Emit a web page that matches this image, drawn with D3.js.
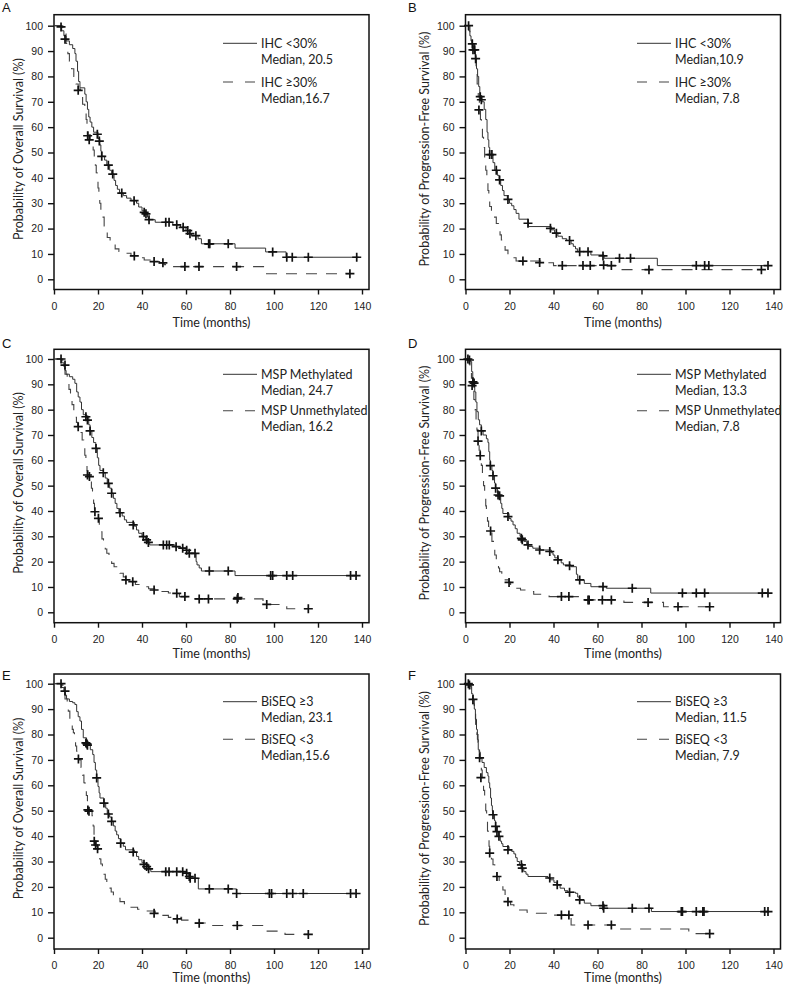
<!DOCTYPE html>
<html><head><meta charset="utf-8">
<script src="https://cdn.jsdelivr.net/npm/d3@7"></script>
<style>
html,body{margin:0;padding:0;background:#fff;}
svg{display:block;}
</style></head>
<body>
<svg id="chart" width="786" height="989"></svg>
<script>
// ---------------- DATA ----------------
const panelLetters = ["A","B","C","D","E","F"];
const yTitleOS = "Probability of Overall Survival (%)";
const yTitlePFS = "Probability of Progression-Free Survival (%)";
const xTitle = "Time (months)";
const xTicks = [0,20,40,60,80,100,120,140];
const yTicks = [0,10,20,30,40,50,60,70,80,90,100];

const legendA = [["IHC <30%","Median, 20.5"],["IHC \u226530%","Median,16.7"]];
const legendB = [["IHC <30%","Median,10.9"],["IHC \u226530%","Median, 7.8"]];
const legendC = [["MSP Methylated","Median, 24.7"],["MSP Unmethylated","Median, 16.2"]];
const legendD = [["MSP Methylated","Median, 13.3"],["MSP Unmethylated","Median, 7.8"]];
const legendE = [["BiSEQ \u22653","Median, 23.1"],["BiSEQ <3","Median,15.6"]];
const legendF = [["BiSEQ \u22653","Median, 11.5"],["BiSEQ <3","Median, 7.9"]];

// Panel A (OS, IHC)
const survA_solid = [[0,100],[3.5,98],[4.5,96],[5.5,94],[7,92.5],[8.5,91],[9.5,89],[10,86],[10.7,82],[11.2,78],[11.8,75.5],[14,73],[14.6,70],[15.2,67],[15.8,64],[16.4,62],[17.2,60],[18,58],[20,55.5],[20.8,53],[21.3,50.5],[21.8,48.5],[23,47],[24,45],[25.3,43],[26.2,41.5],[27.3,39],[28,37],[28.8,35.5],[29.8,34],[31.5,33],[33,32],[35,31],[37.5,30],[38.5,28.5],[40,27],[41.5,25.8],[42.5,24.5],[43,23.5],[46,22.5],[54,21.5],[57.5,20.5],[60,19.2],[61.5,18],[62.5,17.2],[65.5,16],[67,14],[82.3,12.3],[96.2,10.8],[105.5,8.7],[138.5,8.7]];
const censA_solid = [[3.2,99.5],[5,94.7],[19.7,57.2],[20.6,54.5],[21.7,48.5],[24.7,45],[26.7,41.5],[30.8,34],[36.4,31],[41,26.4],[41.8,25.8],[43.2,23.5],[50.8,22.5],[52.3,22.5],[55.8,21.5],[58.7,20.5],[60.8,19.2],[61.8,18],[64.5,17.2],[70.3,14],[70.8,14],[79.2,14],[99.4,10.8],[105.8,8.7],[108.3,8.7],[115.6,8.7],[137.6,8.7]];
const survA_dashed = [[0,100],[4,97],[5.5,93],[6.3,89],[7,86],[8,83],[9,80],[10,77],[11,75],[12,72],[13,69],[14,66],[14.6,63],[15,60],[15.5,57],[16.5,55],[17,53],[17.8,51],[18.3,48],[18.8,45],[19.2,42],[19.6,39],[20,36],[20.4,33],[20.8,30],[21.3,27],[22,24.5],[22.8,21],[23.4,18.5],[24.2,16.5],[25.5,15],[26.5,13.5],[27.8,12],[29.5,11],[31.5,10.3],[35,9.3],[38,8.5],[41,7.6],[44,7],[48,6.4],[50,5.8],[54,5],[95.5,2.2],[134.5,2.2]];
const censA_dashed = [[11,74.5],[15.3,56.6],[16,55],[36.5,9.2],[45.5,7],[49.5,6.5],[59.5,5],[65.9,5],[83,5],[134.5,2.2]];

// Panel B (PFS, IHC)
const survB_solid = [[0,100],[1.5,98],[2,96],[2.5,94],[3,92.8],[3.8,90.5],[4.5,87],[5,83],[5.5,80],[6,76],[6.5,72],[7.5,70],[8.5,67],[9.2,63],[9.8,58],[10.2,55],[10.6,52],[11,49.2],[12.5,46],[13.3,43],[14.5,41],[15.3,39.2],[16,37],[16.8,35],[17.5,33],[19,31.5],[20,30],[21,29],[22,27.5],[23,26],[24.3,23.7],[28.6,20.8],[39,19.5],[40.5,18.2],[42,17],[44,16],[46,15.3],[48,14],[49,13],[50,12],[51,10.9],[57,9.6],[63,8.3],[87.2,5.4],[137.5,5.4]];
const censB_solid = [[1.4,100],[3.1,92.8],[3.4,90.5],[4.2,90.5],[4.6,87],[6.7,72],[7.2,70.8],[11,49.2],[12,49.2],[14,43],[15.5,39.2],[19.3,31.5],[28.4,22.1],[38.6,20.1],[41.3,18.2],[47.3,15.3],[51.9,10.9],[55.7,10.9],[62.5,9.2],[70,8.3],[75,8.3],[104.9,5.4],[108.7,5.4],[110.6,5.4],[137.5,5.4]];
const survB_dashed = [[0,100],[2,97],[3,93],[4,88],[4.8,82],[5.3,77],[5.8,72],[6.3,67],[6.8,63],[7.2,60],[7.7,56],[8.2,52],[8.7,47],[9.2,43],[9.7,39.2],[10.2,35],[10.6,31],[11,28.7],[11.8,26],[12.5,24.5],[14,22],[15,19.5],[15.7,17.5],[16.3,15.5],[17,13.6],[18,11.5],[19.3,9.6],[21.6,8.5],[23,7.2],[35,6.5],[40,5.4],[69,3.8],[134.5,3.8]];
const censB_dashed = [[6.1,66.8],[26.1,7.2],[33.7,6.6],[44,5.4],[53.4,5.4],[56.7,5.4],[62.8,5.6],[66.3,5.4],[83.4,3.8],[134.5,3.8]];

// Panel C (OS, MSP)
const survC_solid = [[0,100],[3.5,98.5],[4.5,97],[5,95.5],[5.5,94],[7,93],[8.5,92],[9.5,90.4],[10.3,87],[11,85],[11.8,83],[12.5,80],[13.3,78],[14.8,77],[15.8,74],[16.4,71.6],[17.2,69],[18,67],[19,64.7],[19.7,61],[20.3,58],[20.9,56],[22.5,55],[23.3,53],[24.2,51],[25.3,49],[26.2,47],[27,45],[27.8,43],[28.6,41],[29.5,39.3],[31,38],[32,36.5],[33,35.5],[36.5,34],[37.5,32.5],[38.5,31.2],[40,30],[41.5,29],[42.5,27.8],[43.5,26.6],[55,25.9],[57.5,25.3],[60,24.5],[61,23.3],[64.6,20],[65,18.7],[66,17.5],[67,16.3],[82.3,14.5],[138,14.5]];
const censC_solid = [[3.2,100],[5,97.6],[14.5,77.2],[15.2,75.9],[16.4,71.6],[19.1,64.7],[22.4,55.1],[24.7,50.9],[26.2,47],[30,39.3],[36,34.5],[40.6,29.9],[42.1,28.6],[42.9,27.6],[49.7,26.6],[51.2,26.6],[52.4,26.6],[55.5,25.9],[58.5,25.3],[60.3,24.5],[61.5,23.3],[64.1,23.3],[70.6,16.3],[79.2,16.3],[98.5,14.5],[99.4,14.5],[105.8,14.5],[108.5,14.5],[134.8,14.5],[137.3,14.5]];
const survC_dashed = [[0,100],[4,97],[5,94],[6,91],[6.8,88],[7.5,85],[8.2,82],[9,80],[9.6,77],[10.2,75],[10.8,73.3],[12,71],[12.8,68],[13.5,65],[14,62],[14.5,59],[15,56],[15.4,54.2],[16.5,52],[17,49],[17.5,46],[18,43],[18.4,39.7],[20.2,37],[20.6,34],[21,31.8],[21.8,29],[22.5,27],[23.3,25],[24,23.3],[25,21],[26.2,19.3],[27.3,18],[28.5,16.7],[30,15.4],[31.5,14],[32.5,13],[35.5,12.1],[37,11],[40,10.1],[43,9.3],[48,8.2],[52,7.6],[57,6.2],[61,5.3],[95,3.1],[105.8,1.4],[115.6,1.4]];
const censC_dashed = [[11,73.3],[15.2,54.2],[16.1,53.6],[18.6,39.7],[20.2,37.1],[32.7,12.8],[35.8,12.1],[45.5,8.8],[55.8,7.5],[59.5,6.2],[66,5.3],[70.2,5.3],[83.3,5.3],[83.6,5.8],[96.7,3.1],[115.6,1.4]];

// Panel D (PFS, MSP)
const survD_solid = [[0,100],[1.5,99.5],[2.3,99],[2.8,95],[3.3,91],[4.2,87],[4.7,83],[5.2,79.2],[5.8,76],[6.4,74],[7.2,71.6],[8,70],[9.5,68.5],[10.2,67],[10.6,63.4],[11,60],[11.3,57.9],[12,56],[12.5,53.9],[13.2,51],[13.7,49],[14.5,47],[15.5,46],[16,43],[16.5,41],[17,39],[19.8,37],[20.7,36],[21.6,34.5],[22.6,33],[23.5,31.2],[24.8,30],[25.4,29.2],[26.5,28],[27.8,27],[28.6,26],[30.6,25.3],[34,24.6],[39,23.5],[39.8,22.6],[40.6,21.5],[42.2,20.7],[43.5,19.5],[44.5,18.7],[48,18],[50.4,15],[51,12.8],[54,11.4],[57,10.1],[64,9.5],[84.2,7.6],[137.5,7.6]];
const censD_solid = [[1.1,100],[1.8,99.6],[3.4,91],[3.9,90.5],[7.2,71.6],[11.3,57.9],[12.5,53.9],[13.7,49],[14.8,46.3],[15.5,46],[19.3,37.8],[25.4,29.2],[25.8,28.6],[28.4,26.6],[33.7,24.6],[38.3,24],[42,20.7],[47.3,18.4],[51.9,12.8],[62.5,10.1],[75.8,9.5],[98.6,7.6],[104.9,7.6],[108.7,7.6],[134.9,7.6],[137.5,7.6]];
const survD_dashed = [[0,100],[2,96],[2.7,92.4],[3.3,88],[3.8,84],[4.3,80],[4.8,76],[5.2,72],[5.7,67.6],[6.2,64],[6.7,61.8],[7.2,58],[7.7,54.2],[8.2,50],[8.7,46],[9.2,42],[9.5,39.7],[10,36],[10.5,33],[11.4,32.1],[12,28],[12.7,25],[13.3,22.6],[14,20],[15,17.5],[15.5,16],[16.5,14],[17.5,12.8],[19.8,11.8],[20.5,10.5],[22,9.5],[25,8.8],[27.6,8.2],[31,7.1],[38,6.2],[52,4.9],[72,3.9],[90,2.2],[111,2.2]];
const censD_dashed = [[3,89.5],[5.7,67.6],[6.7,61.8],[11.4,32.1],[19.8,11.8],[43.6,6.2],[47,6.2],[55.7,4.9],[56.2,4.9],[62.2,4.9],[66.3,4.9],[83,3.9],[96.6,2.2],[111,2.2]];

// Panel E (OS, BiSEQ)
const survE_solid = [[0,100],[3.5,98.5],[4.5,97],[5,95.5],[5.7,94],[7,93],[8.5,92.5],[9.5,91.8],[10.3,89],[11,87],[11.8,85.3],[12.5,82],[13.3,78.7],[14.8,77],[15.8,76],[16.5,74],[17.6,72.1],[18.2,69],[18.8,66],[19.4,62.9],[20,59.5],[20.5,57],[20.9,55],[22.7,53],[23.5,51],[24.2,49],[25.3,47.5],[26.2,45.8],[27,44],[27.8,42],[28.5,40.5],[29.3,39],[30.3,37.2],[31.5,36],[32.5,34.6],[36.5,33.7],[37.5,32],[38.5,30.7],[40,29.5],[41.5,28.9],[42.5,28],[43.3,27.1],[44,26],[60,25.4],[61,24.1],[61.8,23.4],[65.6,19.2],[83,17.4],[138,17.4]];
const censE_solid = [[3.2,100],[5,97.1],[14.5,76.7],[15,76.3],[15.2,75.8],[19.4,62.9],[22.7,53],[24.7,48.7],[26.2,45.8],[30.3,37.2],[36,33.7],[40.9,28.9],[42.1,28],[43,27.1],[50.8,26],[52.3,26],[55.8,26],[58.5,26],[60.3,25.4],[61.5,24.1],[61.9,23.4],[64.1,23.4],[70.6,19.2],[79.2,19.2],[83,17.4],[97.9,17.4],[98.9,17.4],[105.8,17.4],[108.5,17.4],[113.3,17.4],[134.8,17.4],[137.3,17.4]];
const survE_dashed = [[0,100],[4,97],[5,94],[6,91.5],[6.5,89.2],[7.2,86],[7.8,84],[8.3,82],[8.8,80.7],[9.3,78],[9.8,75.5],[10.3,73.4],[11.5,70],[12.3,67],[13,64],[13.6,61],[14.1,59],[14.7,56],[15.2,53.5],[15.6,50],[17.3,48],[17.8,44],[18.2,40.5],[18.6,38],[19.2,36],[20,35],[20.3,33],[20.8,31],[21.3,29],[22,26.5],[22.5,25],[23.3,23],[24,21.5],[25,19.5],[26,18],[27,16.5],[28,15.5],[30,14.2],[32,13.4],[35,12],[38,11.2],[42,10.5],[46,9.5],[48,8.8],[52,8],[58,6.9],[63,5.8],[70,4.8],[96.5,2.6],[105,1.3],[115.6,1.3]];
const censE_dashed = [[11.1,70.4],[15.4,50.3],[15.9,49.8],[18.3,38],[18.9,36.5],[19.8,35],[45.5,9.6],[56,7.4],[66,5.7],[83.3,4.8],[115.6,1.3]];

// Panel F (PFS, BiSEQ)
const survF_solid = [[0,100],[2,99],[2.8,96],[3.4,93.8],[4,90],[4.5,86],[5,82],[5.4,78],[5.8,74],[6.4,70.8],[7.5,69],[8.5,67],[9.5,65],[10.2,63.6],[10.6,61],[11,58.9],[11.4,55],[11.8,52],[12.2,50],[12.5,48.4],[13.2,46],[13.7,43.8],[14.3,41.8],[15.2,39.9],[15.8,38],[16.4,37],[17,35.9],[19.8,34.6],[21,34],[22,33],[22.8,31.5],[23.5,30],[24.5,28.7],[25.6,27.4],[26.5,26],[27.5,25],[28.4,24.1],[37.5,23.5],[38.5,22.8],[40.2,21.8],[41.5,20.8],[43,19.5],[45,18.5],[46.5,17.9],[50,17.5],[51,16],[51.9,14.9],[54,13.6],[57,12.6],[63,11.6],[84.5,10.3],[137.5,10.3]];
const censF_solid = [[1.3,100],[1.8,99.5],[3.4,93.8],[6.4,70.8],[12.5,48.4],[13.7,43.8],[14.3,41.8],[15.2,39.9],[19.3,34.6],[25.4,28.7],[25.8,27.4],[38.3,23.5],[41.7,20.8],[47.3,17.9],[51.9,14.9],[62.5,12.6],[62.8,11.6],[75.8,11.6],[83.4,11.6],[98.1,10.3],[98.6,10.3],[104.9,10.3],[107.9,10.3],[108.4,10.3],[136,10.3],[137.5,10.3]];
const survF_dashed = [[0,100],[2.5,96],[3.3,92],[4,88],[4.6,84],[5.2,80],[5.7,77],[6.2,73],[6.7,70.5],[7.2,66],[7.6,62.9],[8.2,58],[8.7,55],[9.2,50],[9.6,46],[10,42],[10.3,39],[10.7,36],[11,33.3],[11.8,31],[12.5,28.7],[13.3,26],[14.3,24.1],[15.3,22],[16.2,20],[17,18.8],[18,16.5],[19.3,14.2],[20.5,13],[22,12],[24.6,10.9],[28,10],[31,9.6],[38,8.9],[48,5],[68.3,3.4],[101.5,1.6],[111,1.6]];
const censF_dashed = [[7.0,63],[11,33.3],[14.3,24.1],[19.3,14.2],[43.6,8.9],[47,8.9],[55.7,5],[66.3,5],[111,1.6]];

// ---------------- LAYOUT ----------------
const colLeft = [54, 465.5];
const plotW = 308, frameExtra = 7;
const rowGeo = [
  {top:14.7, bottom:289.5, y0:279.3, y100:25.7, leg1:43.3, leg2:82,    xTitle:327, letter:12},
  {top:349.3, bottom:622.7, y0:612.3, y100:359, leg1:374.3, leg2:410.7, xTitle:658, letter:348},
  {top:674,  bottom:949,   y0:937.7, y100:683.7, leg1:701.7, leg2:739.3, xTitle:982, letter:680}
];
const colGeo = [
  {letterX:2,   yTitleX:18.5, legLine:[223,257], legText:261},
  {letterX:408, yTitleX:425,  legLine:[637,671], legText:675}
];

const panels = [
  {letter:panelLetters[0], row:0, col:0, yTitle:yTitleOS,  legend:legendA, solid:survA_solid, solidC:censA_solid, dashed:survA_dashed, dashedC:censA_dashed},
  {letter:panelLetters[1], row:0, col:1, yTitle:yTitlePFS, legend:legendB, solid:survB_solid, solidC:censB_solid, dashed:survB_dashed, dashedC:censB_dashed},
  {letter:panelLetters[2], row:1, col:0, yTitle:yTitleOS,  legend:legendC, solid:survC_solid, solidC:censC_solid, dashed:survC_dashed, dashedC:censC_dashed},
  {letter:panelLetters[3], row:1, col:1, yTitle:yTitlePFS, legend:legendD, solid:survD_solid, solidC:censD_solid, dashed:survD_dashed, dashedC:censD_dashed},
  {letter:panelLetters[4], row:2, col:0, yTitle:yTitleOS,  legend:legendE, solid:survE_solid, solidC:censE_solid, dashed:survE_dashed, dashedC:censE_dashed},
  {letter:panelLetters[5], row:2, col:1, yTitle:yTitlePFS, legend:legendF, solid:survF_solid, solidC:censF_solid, dashed:survF_dashed, dashedC:censF_dashed}
];

const svg = d3.select("#chart");
const tickFont = "'Liberation Sans', Arial, sans-serif";
const titleFont = "Lato, 'Open Sans', sans-serif";
const dashPattern = "11,9";

panels.forEach(p => {
  const r = rowGeo[p.row], c = colGeo[p.col];
  const left = colLeft[p.col];
  const x = d3.scaleLinear().domain([0,140]).range([left, left+plotW]);
  const y = d3.scaleLinear().domain([0,100]).range([r.y0, r.y100]);
  const g = svg.append("g");

  // panel letter
  g.append("text").attr("x", c.letterX).attr("y", r.letter)
    .attr("font-family", tickFont).attr("font-size", 13).attr("fill", "#111")
    .text(p.letter);

  // x axis
  const xa = g.append("g").attr("transform", `translate(0,${r.bottom})`)
    .call(d3.axisBottom(x).tickValues(xTicks).tickSize(5).tickSizeOuter(0).tickPadding(8));
  xa.select(".domain").remove();
  xa.selectAll("line").attr("stroke", "#111").attr("stroke-width", 1.4);
  xa.selectAll("text").attr("font-family", tickFont).attr("font-size", 10.5).attr("fill", "#222");

  // y axis
  const ya = g.append("g").attr("transform", `translate(${left},0)`)
    .call(d3.axisLeft(y).tickValues(yTicks).tickSize(6).tickSizeOuter(0).tickPadding(5));
  ya.select(".domain").remove();
  ya.selectAll("line").attr("stroke", "#111").attr("stroke-width", 1.4);
  ya.selectAll("text").attr("font-family", tickFont).attr("font-size", 10.5).attr("fill", "#222");

  // frame
  g.append("rect").attr("x", left).attr("y", r.top)
    .attr("width", plotW + frameExtra).attr("height", r.bottom - r.top)
    .attr("fill", "none").attr("stroke", "#111").attr("stroke-width", 1.5);

  // titles
  g.append("text").attr("x", left + (plotW+frameExtra)/2).attr("y", r.xTitle)
    .attr("text-anchor", "middle").attr("font-family", titleFont).attr("font-size", 12.5).attr("fill", "#222")
    .text(xTitle);
  const yc = (r.top + r.bottom)/2 - 3;
  g.append("text").attr("transform", `translate(${c.yTitleX},${yc}) rotate(-90)`)
    .attr("text-anchor", "middle").attr("dy", "0.35em").attr("font-family", titleFont).attr("font-size", 12.5).attr("fill", "#222")
    .text(p.yTitle);

  // curves
  const line = d3.line().x(d => x(d[0])).y(d => y(d[1])).curve(d3.curveStepAfter);
  g.append("path").datum(p.dashed).attr("d", line)
    .attr("fill", "none").attr("stroke", "#444").attr("stroke-width", 1.1).attr("stroke-dasharray", dashPattern);
  g.append("path").datum(p.solid).attr("d", line)
    .attr("fill", "none").attr("stroke", "#333").attr("stroke-width", 1);

  // censor marks
  const cross = d => { const cx = x(d[0]), cy = y(d[1]); return `M${cx-4.5},${cy}h9M${cx},${cy-4.5}v9`; };
  g.selectAll(null).data(p.solidC.concat(p.dashedC)).enter().append("path")
    .attr("d", cross).attr("stroke", "#111").attr("stroke-width", 1.7).attr("fill", "none");

  // legend
  const legY = [r.leg1, r.leg2];
  p.legend.forEach((entry, i) => {
    g.append("line").attr("x1", c.legLine[0]).attr("x2", c.legLine[1])
      .attr("y1", legY[i]).attr("y2", legY[i])
      .attr("stroke", i === 0 ? "#333" : "#444").attr("stroke-width", i === 0 ? 1 : 1.1)
      .attr("stroke-dasharray", i === 0 ? null : "10,12");
    entry.forEach((t, j) => {
      g.append("text").attr("x", c.legText).attr("y", legY[i] + 4.5 + j*16)
        .attr("font-family", titleFont).attr("font-size", 12.5).attr("fill", "#222")
        .text(t);
    });
  });
});
</script>
</body></html>
